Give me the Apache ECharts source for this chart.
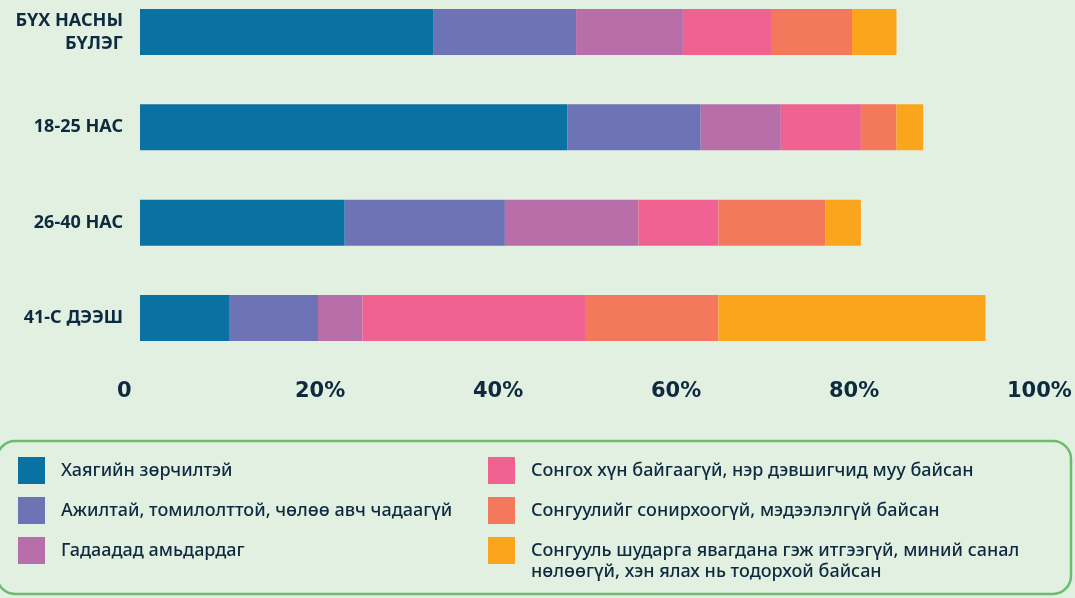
<!DOCTYPE html>
<html>
<head>
<meta charset="utf-8">
<script src="https://cdn.jsdelivr.net/npm/echarts@6/dist/echarts.min.js"></script>
<style>
  html, body { margin: 0; padding: 0; background: #e2f0e2; }
  #chart { width: 1075px; height: 598px; }
</style>
</head>
<body>
<div id="chart"></div>
<script>
(function () {
    "use strict";

    // age groups (top to bottom)
    var categories = ['БҮХ НАСНЫ\nБҮЛЭГ', '18-25 НАС', '26-40 НАС', '41-С ДЭЭШ'];

    var seriesNames = [
        'Хаягийн зөрчилтэй',
        'Ажилтай, томилолттой, чөлөө авч чадаагүй',
        'Гадаадад амьдардаг',
        'Сонгох хүн байгаагүй, нэр дэвшигчид муу байсан',
        'Сонгуулийг сонирхоогүй, мэдээлэлгүй байсан',
        'Сонгууль шударга явагдана гэж итгээгүй, миний санал нөлөөгүй, хэн ялах нь тодорхой байсан'
    ];

    // percent per age group, one array per reason
    var address = [33, 48, 23, 10];
    var working = [16, 15, 18, 10];
    var abroad = [12, 9, 15, 5];
    var noCandidate = [10, 9, 9, 25];
    var notInterested = [9, 4, 12, 15];
    var noTrust = [5, 3, 4, 30];

    var xTicks = [0, 20, 40, 60, 80, 100];

    var colors = ['#0a71a3', '#6e73b5', '#b86ea9', '#f06292', '#f4785c', '#fba51c'];
    var textColor = '#0e2a3f';
    var values = [address, working, abroad, noCandidate, notInterested, noTrust];

    var series = seriesNames.map(function (name, i) {
        return {
            name: name,
            type: 'bar',
            stack: 'total',
            barWidth: 46,
            itemStyle: { color: colors[i] },
            emphasis: { disabled: true },
            data: values[i]
        };
    });

    var legendText = {
        color: textColor,
        fontFamily: 'Noto Sans',
        fontSize: 18,
        fontWeight: 500,
        lineHeight: 21,
        padding: [0, 0, 0, 11]
    };

    function makeLegend(names, left, top, formatter) {
        return {
            orient: 'vertical',
            left: left,
            top: top,
            padding: 0,
            itemGap: 13,
            itemWidth: 27,
            itemHeight: 27,
            icon: 'rect',
            selectedMode: false,
            textStyle: legendText,
            formatter: formatter,
            data: names
        };
    }

    var longName = seriesNames[5];
    var splitAt = longName.indexOf('нөлөөгүй');

    var chart = echarts.init(document.getElementById('chart'), null, { renderer: 'canvas' });
    var option = {
        backgroundColor: '#e2f0e2',
        animation: false,
        grid: {
            left: 140,
            right: 45,
            top: 32,
            bottom: 280,
            containLabel: false,
            outerBoundsMode: 'none'
        },
        xAxis: {
            type: 'value',
            min: xTicks[0],
            max: xTicks[xTicks.length - 1],
            interval: 20,
            splitLine: { show: false },
            axisLine: { show: false },
            axisTick: { show: false },
            axisLabel: {
                color: textColor,
                fontFamily: 'DejaVu Sans',
                fontWeight: 'bold',
                fontSize: 21,
                margin: 63,
                align: 'left',
                padding: [0, 0, 0, -23],
                formatter: function (v) { return v === 0 ? '0' : v + '%'; }
            }
        },
        yAxis: {
            type: 'category',
            inverse: true,
            boundaryGap: false,
            data: categories,
            axisLine: { show: false },
            axisTick: { show: false },
            splitLine: { show: false },
            axisLabel: {
                color: textColor,
                fontFamily: 'Noto Sans',
                fontWeight: 'bold',
                fontSize: 18,
                lineHeight: 23,
                margin: 17,
                align: 'right'
            }
        },
        legend: [
            makeLegend(seriesNames.slice(0, 3), 18, 457),
            makeLegend(seriesNames.slice(3, 5), 488, 457),
            makeLegend([longName], 488, 519, function (n) {
                return '\n' + n.slice(0, splitAt).trim() + '\n' + n.slice(splitAt);
            })
        ],
        graphic: [{
            type: 'rect',
            silent: true,
            shape: { x: -3, y: 441, width: 1074, height: 153, r: 18 },
            style: { fill: 'none', stroke: '#69bd6c', lineWidth: 2.5 }
        }],
        series: series
    };
    chart.setOption(option);
})();
</script>
</body>
</html>
